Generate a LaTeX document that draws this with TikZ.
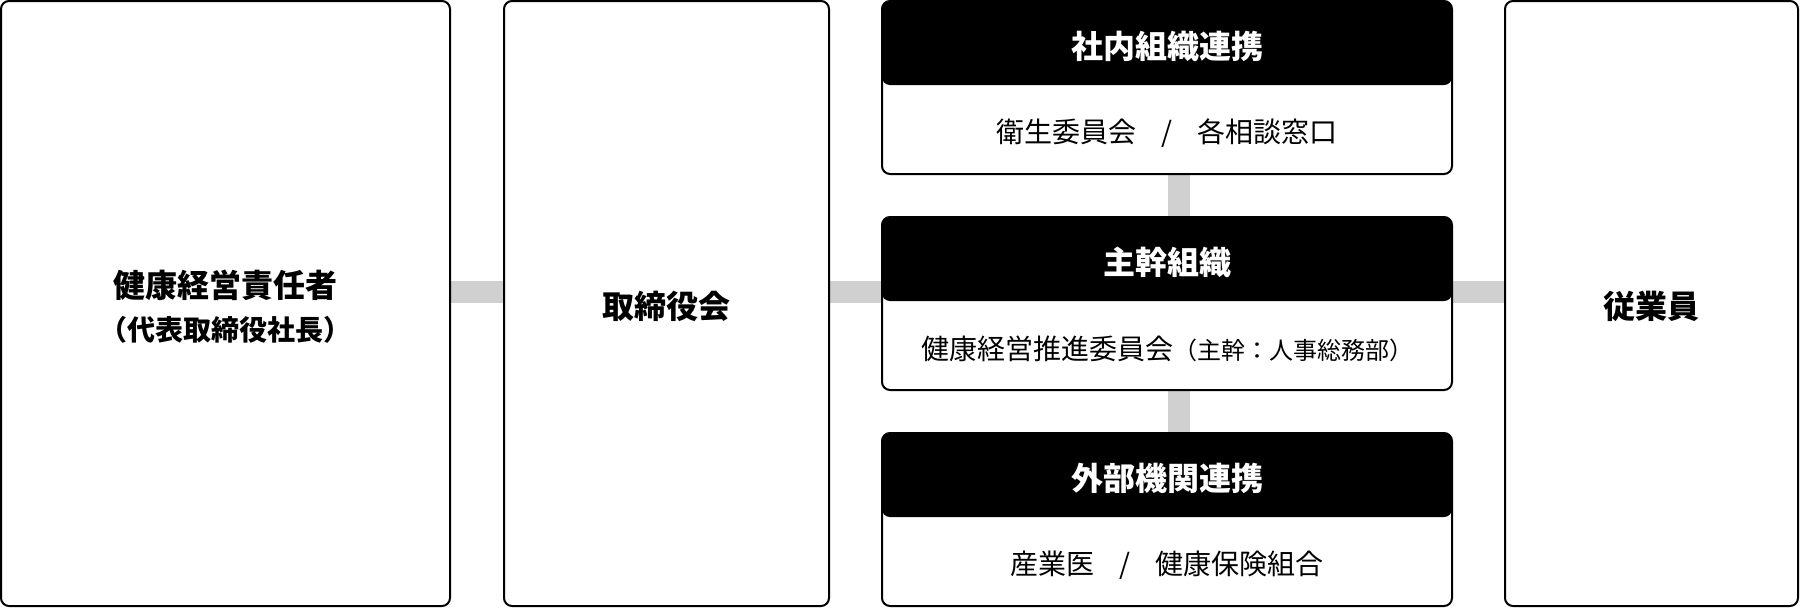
\documentclass[tikz,border=0pt]{standalone}
\usepackage{fontspec}
\setmainfont{Noto Sans CJK JP}
\usetikzlibrary{calc}
\pgfdeclarelayer{bg}
\pgfsetlayers{bg,main}
\definecolor{bargray}{RGB}{208,208,208}
\tikzset{
  bigbox/.style={draw=black, line width=1.5pt, rounded corners=6pt, fill=white,
    inner sep=0pt, minimum height=453.75pt},
  colbox/.style={draw=black, line width=1.5pt, rounded corners=6pt, fill=white,
    inner sep=0pt, minimum width=427.5pt, minimum height=129.75pt,
    path picture={\fill[black] (path picture bounding box.north west) rectangle ([yshift=-63pt]path picture bounding box.north east);}},
  titletext/.style={font=\fontsize{24}{28}\selectfont\bfseries, inner sep=0pt, align=center},
  headtext/.style={font=\fontsize{24}{28}\selectfont\bfseries, text=white, inner sep=0pt},
  bodytext/.style={font=\fontsize{21}{25}\selectfont, inner sep=0pt},
  bar/.style={draw=bargray, line width=16.5pt, line cap=butt}
}
\begin{document}
\begin{tikzpicture}[x=0.75pt,y=-0.75pt]
\useasboundingbox (0,0) rectangle (1800,608);
% large boxes
\node[bigbox, minimum width=336.75pt] (lead) at (225.5,303.5) {};
\node[titletext] (leadtxt) at (225.5,306.5)
  {健康経営責任者\\[4pt]{\fontsize{21}{25}\selectfont （代表取締役社長）}};
\node[bigbox, minimum width=243.75pt] (board) at (666.5,303.5) {};
\node[titletext] (boardtxt) at (666.5,306.5) {取締役会};
\node[bigbox, minimum width=219.75pt] (emp) at (1651.5,303.5) {};
\node[titletext] (emptxt) at (1651.5,306.5) {従業員};
% column groups
\node[colbox] (g1) at (1167,87.5) {};
\node[headtext] (h1) at (1167,46) {社内組織連携};
\node[bodytext] (b1) at (1167,133) {衛生委員会\hspace{0.9em}/\hspace{0.9em}各相談窓口};
\node[colbox] (g2) at (1167,303.5) {};
\node[headtext] (h2) at (1167,262) {主幹組織};
\node[bodytext] (b2) at (1167,349) {健康経営推進委員会{\fontsize{18}{22}\selectfont （主幹：人事総務部）}};
\node[colbox] (g3) at (1167,519.5) {};
\node[headtext] (h3) at (1167,478) {外部機関連携};
\node[bodytext] (b3) at (1167,565) {産業医\hspace{0.9em}/\hspace{0.9em}健康保険組合};
% connectors
\begin{pgfonlayer}{bg}
\draw[bar] ([yshift=8.625pt]lead.east) -- ([yshift=8.625pt]board.west);
\draw[bar] ([yshift=8.625pt]board.east) -- ([yshift=8.625pt]g2.west);
\draw[bar] ([yshift=8.625pt]g2.east) -- ([yshift=8.625pt]emp.west);
\draw[bar] ([xshift=8.625pt]g1.south) -- ([xshift=8.625pt]g2.north);
\draw[bar] ([xshift=8.625pt]g2.south) -- ([xshift=8.625pt]g3.north);
\end{pgfonlayer}
\end{tikzpicture}
\end{document}
